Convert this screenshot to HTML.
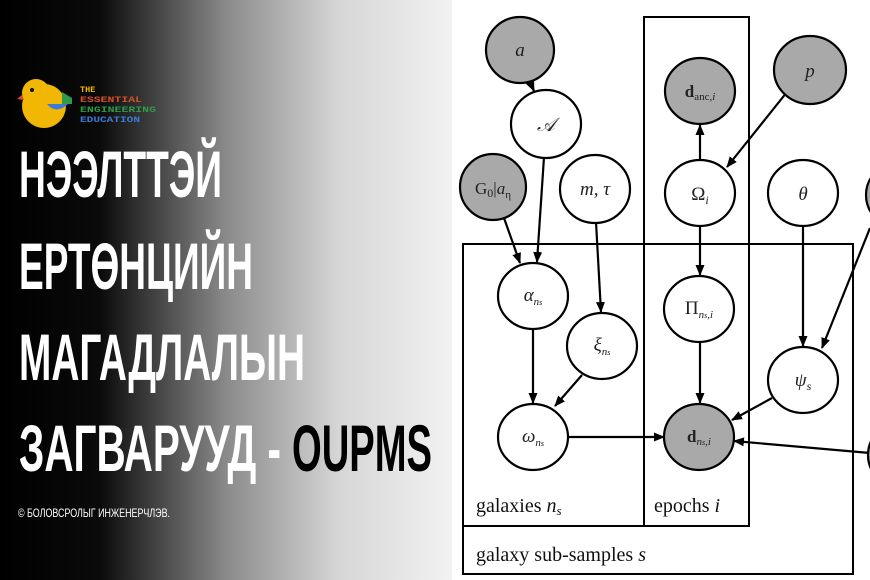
<!DOCTYPE html>
<html><head><meta charset="utf-8"><style>
html,body{margin:0;padding:0;width:870px;height:580px;overflow:hidden;background:#fff}
</style></head><body>
<svg width="870" height="580" viewBox="0 0 870 580" xmlns="http://www.w3.org/2000/svg">
<defs>
<linearGradient id="bg" x1="0" x2="1" y1="0" y2="0">
<stop offset="0" stop-color="#000"/>
<stop offset="0.22" stop-color="#0a0a0a"/>
<stop offset="0.5" stop-color="#8a8a8a"/>
<stop offset="0.75" stop-color="#d6d6d6"/>
<stop offset="1" stop-color="#f2f2f2"/>
</linearGradient>
<marker id="ar" markerWidth="11" markerHeight="9" refX="10" refY="4.5" orient="auto" markerUnits="userSpaceOnUse">
<path d="M0,0 L11,4.5 L0,9 z" fill="#000"/></marker>
</defs>
<rect x="0" y="0" width="452" height="580" fill="url(#bg)"/>
<rect x="452" y="0" width="418" height="580" fill="#fff"/>

<!-- logo -->
<circle cx="44" cy="106" r="22" fill="#f2b705"/>
<circle cx="36" cy="93" r="14" fill="#f2b705"/>
<circle cx="32" cy="90" r="2" fill="#111"/>
<path d="M22,95 L17,99 L24,100 z" fill="#d4502a"/>
<path d="M47,104 Q56,115 68,104 z" fill="#3a7bd5"/>
<path d="M62,92 L72,98 L72,104 L62,104 z" fill="#2e9a4a"/>
<g font-family="Liberation Mono, monospace" font-weight="bold" font-size="8.5">
<text x="80" y="92" fill="#f2b705">THE</text>
<text x="80" y="102" fill="#d4502a" textLength="62" lengthAdjust="spacingAndGlyphs">ESSENTIAL</text>
<text x="80" y="112" fill="#2e9a4a" textLength="76" lengthAdjust="spacingAndGlyphs">ENGINEERING</text>
<text x="80" y="122" fill="#3a7bd5" textLength="60" lengthAdjust="spacingAndGlyphs">EDUCATION</text>
</g>

<!-- title -->
<g font-family="Liberation Sans, sans-serif" font-weight="bold" font-size="66" fill="#fff">
<text x="19" y="197" textLength="203" lengthAdjust="spacingAndGlyphs">НЭЭЛТТЭЙ</text>
<text x="19" y="289" textLength="234" lengthAdjust="spacingAndGlyphs">ЕРТӨНЦИЙН</text>
<text x="19" y="380" textLength="286" lengthAdjust="spacingAndGlyphs">МАГАДЛАЛЫН</text>
<text x="19" y="471" textLength="262" lengthAdjust="spacingAndGlyphs">ЗАГВАРУУД -</text>
<text x="292" y="471" textLength="140" lengthAdjust="spacingAndGlyphs" fill="#000">OUPMS</text>
</g>
<text x="18" y="517" font-family="Liberation Sans, sans-serif" font-size="12" fill="#fff" textLength="152" lengthAdjust="spacingAndGlyphs">© БОЛОВСРОЛЫГ ИНЖЕНЕРЧЛЭВ.</text>

<!-- plates -->
<g fill="none" stroke="#000" stroke-width="2">
<rect x="644" y="17" width="105" height="509"/>
<rect x="463" y="244" width="390" height="330"/>
<line x1="463" y1="526" x2="749" y2="526"/>
<line x1="644" y1="244" x2="644" y2="526"/>
</g>

<!-- edges -->
<g stroke="#000" stroke-width="2.2" fill="none" marker-end="url(#ar)">
<line x1="530" y1="82" x2="534" y2="91"/>
<line x1="544" y1="157" x2="537" y2="262"/>
<line x1="504" y1="218" x2="520" y2="263"/>
<line x1="596" y1="222" x2="601" y2="312"/>
<line x1="533" y1="329" x2="533" y2="403"/>
<line x1="582" y1="375" x2="555" y2="406"/>
<line x1="568" y1="437" x2="664" y2="437"/>
<line x1="700" y1="160" x2="700" y2="125"/>
<line x1="787" y1="92" x2="727" y2="167"/>
<line x1="700" y1="226" x2="700" y2="275"/>
<line x1="700" y1="342" x2="700" y2="403"/>
<line x1="803" y1="226" x2="803" y2="346"/>
<line x1="870" y1="228" x2="822" y2="348"/>
<line x1="772" y1="398" x2="732" y2="420"/>
<line x1="870" y1="453" x2="734" y2="441"/>
</g>

<!-- nodes -->
<g stroke="#000" stroke-width="2.2">
<ellipse cx="520" cy="50" rx="34" ry="33" fill="#a9a9a9"/>
<ellipse cx="546" cy="124" rx="35" ry="34" fill="#fff"/>
<ellipse cx="493" cy="187" rx="33" ry="33" fill="#a9a9a9"/>
<ellipse cx="595" cy="189" rx="35" ry="34" fill="#fff"/>
<ellipse cx="700" cy="91" rx="35" ry="33" fill="#a9a9a9"/>
<ellipse cx="810" cy="70" rx="36" ry="34" fill="#a9a9a9"/>
<ellipse cx="700" cy="193" rx="35" ry="33" fill="#fff"/>
<ellipse cx="803" cy="193" rx="35" ry="33" fill="#fff"/>
<ellipse cx="902" cy="195" rx="36" ry="34" fill="#a9a9a9"/>
<ellipse cx="533" cy="296" rx="35" ry="33" fill="#fff"/>
<ellipse cx="602" cy="346" rx="35" ry="33" fill="#fff"/>
<ellipse cx="699" cy="309" rx="35" ry="33" fill="#fff"/>
<ellipse cx="803" cy="380" rx="35" ry="33" fill="#fff"/>
<ellipse cx="533" cy="437" rx="35" ry="33" fill="#fff"/>
<ellipse cx="699" cy="437" rx="35" ry="33" fill="#a9a9a9"/>
<ellipse cx="904" cy="455" rx="36" ry="34" fill="#a9a9a9"/>
</g>

<!-- node labels -->
<g font-family="Liberation Serif, serif" font-size="19" fill="#222" text-anchor="middle" font-style="italic">
<text x="520" y="56">a</text>
<text x="546" y="131">𝒜</text>
<text x="493" y="194" font-style="normal" font-size="17">G<tspan font-size="12" dy="3">0</tspan><tspan dy="-3">|</tspan><tspan font-style="italic">a</tspan><tspan font-size="11" dy="4">η</tspan></text>
<text x="595" y="195">m, τ</text>
<text x="700" y="97" font-style="normal" font-weight="bold" font-size="17">d<tspan font-weight="normal" font-size="11" dy="3">anc,<tspan font-style="italic">i</tspan></tspan></text>
<text x="810" y="77">p</text>
<text x="700" y="200" font-style="normal">Ω<tspan font-style="italic" font-size="12" dy="4">i</tspan></text>
<text x="803" y="200">θ</text>
<text x="533" y="301">α<tspan font-size="11" dy="4">n<tspan font-size="8">s</tspan></tspan></text>
<text x="602" y="351">ξ<tspan font-size="11" dy="4">n<tspan font-size="8">s</tspan></tspan></text>
<text x="699" y="314" font-style="normal">Π<tspan font-style="italic" font-size="11" dy="4">n<tspan font-size="8">s</tspan>,i</tspan></text>
<text x="803" y="386">ψ<tspan font-size="12" dy="4">s</tspan></text>
<text x="533" y="442">ω<tspan font-size="11" dy="4">n<tspan font-size="8">s</tspan></tspan></text>
<text x="699" y="442" font-style="normal" font-weight="bold" font-size="17">d<tspan font-weight="normal" font-style="italic" font-size="11" dy="3">n<tspan font-size="8">s</tspan>,i</tspan></text>
</g>

<!-- plate labels -->
<g font-family="Liberation Serif, serif" font-size="20" fill="#111">
<text x="476" y="512">galaxies <tspan font-style="italic">n</tspan><tspan font-style="italic" font-size="13" dy="3">s</tspan></text>
<text x="654" y="512">epochs <tspan font-style="italic">i</tspan></text>
<text x="476" y="561">galaxy sub-samples <tspan font-style="italic">s</tspan></text>
</g>
</svg>
</body></html>
